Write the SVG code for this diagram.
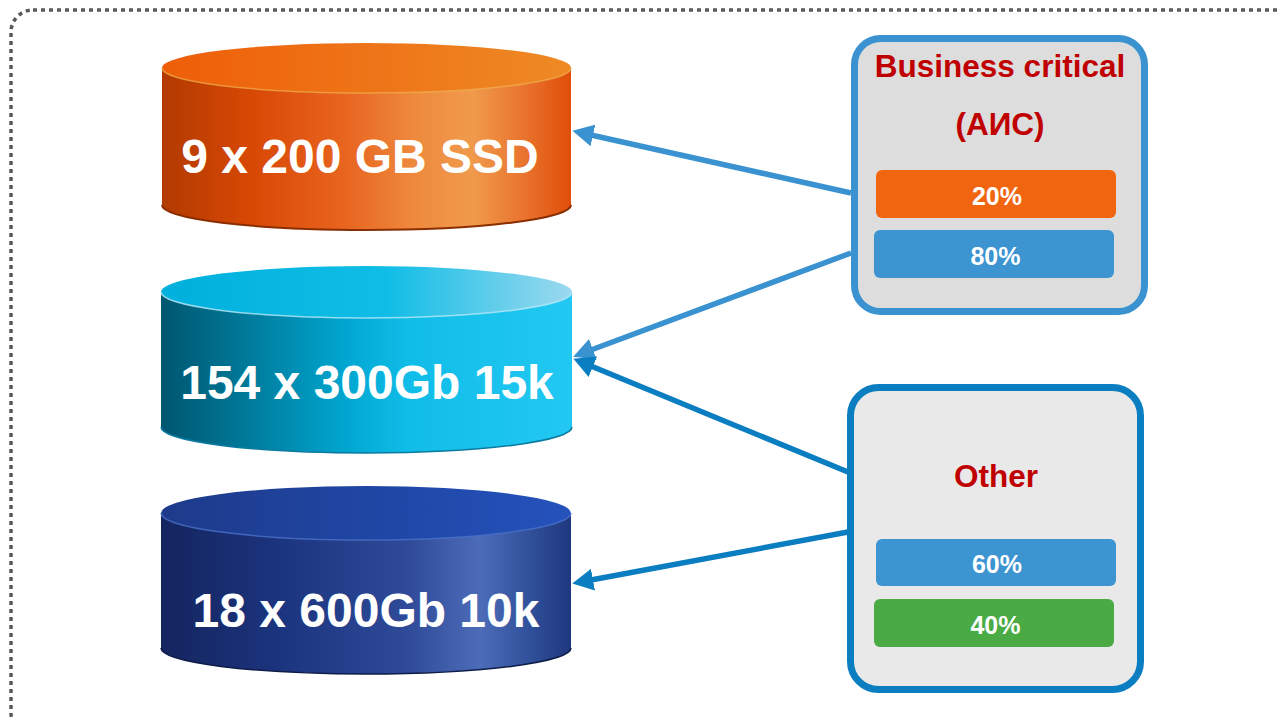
<svg xmlns="http://www.w3.org/2000/svg" width="1280" height="718" viewBox="0 0 1280 718">
<defs>
<linearGradient id="oBody" x1="0" y1="0" x2="1" y2="0">
<stop offset="0" stop-color="#b23a00"/><stop offset="0.22" stop-color="#d84805"/><stop offset="0.45" stop-color="#e86520"/><stop offset="0.62" stop-color="#ee8a3e"/><stop offset="0.76" stop-color="#f09a4c"/><stop offset="0.88" stop-color="#e97530"/><stop offset="1" stop-color="#e04e08"/>
</linearGradient>
<linearGradient id="oTop" x1="0" y1="0" x2="1" y2="0">
<stop offset="0" stop-color="#ee5e08"/><stop offset="0.5" stop-color="#ee7418"/><stop offset="1" stop-color="#ee8a25"/>
</linearGradient>
<linearGradient id="cBody" x1="0" y1="0" x2="1" y2="0">
<stop offset="0" stop-color="#00566f"/><stop offset="0.2" stop-color="#007898"/><stop offset="0.45" stop-color="#00a6d0"/><stop offset="0.6" stop-color="#10bde8"/><stop offset="1" stop-color="#22c8f2"/>
</linearGradient>
<linearGradient id="cTop" x1="0" y1="0" x2="1" y2="0">
<stop offset="0" stop-color="#00b0dc"/><stop offset="0.55" stop-color="#10bde6"/><stop offset="1" stop-color="#9cd9ee"/>
</linearGradient>
<linearGradient id="bBody" x1="0" y1="0" x2="1" y2="0">
<stop offset="0" stop-color="#14255e"/><stop offset="0.3" stop-color="#1c3580"/><stop offset="0.6" stop-color="#2e4a98"/><stop offset="0.78" stop-color="#4d6cb8"/><stop offset="0.9" stop-color="#30509a"/><stop offset="1" stop-color="#1f3880"/>
</linearGradient>
<linearGradient id="bTop" x1="0" y1="0" x2="1" y2="0">
<stop offset="0" stop-color="#1e3a8a"/><stop offset="0.6" stop-color="#2048a8"/><stop offset="1" stop-color="#2552bc"/>
</linearGradient>
<marker id="ahL" viewBox="0 0 22 22" refX="2" refY="11" markerWidth="22" markerHeight="22" markerUnits="userSpaceOnUse" orient="auto">
<path d="M0,0 L21,11 L0,22 Z" fill="#3a93d0"/>
</marker>
<marker id="ahD" viewBox="0 0 22 22" refX="2" refY="11" markerWidth="22" markerHeight="22" markerUnits="userSpaceOnUse" orient="auto">
<path d="M0,0 L21,11 L0,22 Z" fill="#0b7dc1"/>
</marker>
<style>
.disk{font-family:"Liberation Sans",Arial,sans-serif;font-weight:bold;font-size:48px;fill:#fff;text-anchor:middle}
.hdr{font-family:"Liberation Sans",Arial,sans-serif;font-weight:bold;font-size:31.5px;fill:#c00000;text-anchor:middle}
.pct{font-family:"Liberation Sans",Arial,sans-serif;font-weight:bold;font-size:25px;fill:#fff;text-anchor:middle}
.conL{fill:none;stroke:#3a93d0;stroke-width:5.5;marker-end:url(#ahL)}
.conD{fill:none;stroke:#0b7dc1;stroke-width:5.5;marker-end:url(#ahD)}
</style>
</defs>
<rect x="11" y="10" width="1290" height="725" rx="22" fill="none" stroke="#595959" stroke-width="3.5" stroke-dasharray="4 4"/>

<g id="disk-ssd">
<path d="M162,68 L162,205 A204.5,25 0 0 0 571,205 L571,68 Z" fill="url(#oBody)"/>
<path d="M162,205 A204.5,25 0 0 0 571,205" fill="none" stroke="#8a2e00" stroke-width="2"/>
<ellipse cx="366.5" cy="68" rx="204.5" ry="25" fill="url(#oTop)"/>
<path d="M162,68 A204.5,25 0 0 0 571,68" fill="none" stroke="#f0b050" stroke-width="1.5" opacity="0.7"/>
<text class="disk" x="360" y="173">9 x 200 GB SSD</text>
</g>

<g id="disk-15k">
<path d="M161,292 L161,427 A205.5,26 0 0 0 572,427 L572,292 Z" fill="url(#cBody)"/>
<path d="M161,427 A205.5,26 0 0 0 572,427" fill="none" stroke="#0a7aa0" stroke-width="1.5"/>
<ellipse cx="366.5" cy="292" rx="205.5" ry="26" fill="url(#cTop)"/>
<path d="M161,292 A205.5,26 0 0 0 572,292" fill="none" stroke="#b8e8f8" stroke-width="1.5" opacity="0.8"/>
<text class="disk" x="367" y="399">154 x 300Gb 15k</text>
</g>

<g id="disk-10k">
<path d="M161,513 L161,648 A205,26 0 0 0 571,648 L571,513 Z" fill="url(#bBody)"/>
<path d="M161,648 A205,26 0 0 0 571,648" fill="none" stroke="#0f1d4a" stroke-width="1.5"/>
<ellipse cx="366" cy="513" rx="205" ry="27" fill="url(#bTop)"/>
<path d="M161,513 A205,27 0 0 0 571,513" fill="none" stroke="#4a70c8" stroke-width="1.5" opacity="0.8"/>
<text class="disk" x="366" y="627">18 x 600Gb 10k</text>
</g>

<g id="connectors">
<line class="conL" x1="851" y1="193" x2="591" y2="135"/>
<line class="conL" x1="851" y1="253" x2="591" y2="350"/>
<line class="conD" x1="848" y1="472" x2="591" y2="366"/>
<line class="conD" x1="848" y1="532" x2="591" y2="580"/>
</g>

<g id="business-critical">
<rect x="854.5" y="38.5" width="290" height="273" rx="26" fill="#dddddd" stroke="#3a93d0" stroke-width="7"/>
<text class="hdr" x="1000" y="77">Business critical</text>
<text class="hdr" x="1000" y="135">(АИС)</text>
<rect x="876" y="170" width="240" height="48" rx="6" fill="#f26510"/>
<text class="pct" x="997" y="205">20%</text>
<rect x="874" y="230" width="240" height="48" rx="6" fill="#3c94d0"/>
<text class="pct" x="995.5" y="265">80%</text>
</g>

<g id="other">
<rect x="850.5" y="387.5" width="290" height="302" rx="28" fill="#e9e9e9" stroke="#0b7dc1" stroke-width="7"/>
<text class="hdr" x="996" y="487">Other</text>
<rect x="876" y="539" width="240" height="47" rx="6" fill="#3c94d0"/>
<text class="pct" x="997" y="573">60%</text>
<rect x="874" y="599" width="240" height="48" rx="6" fill="#4aaa44"/>
<text class="pct" x="995.5" y="634">40%</text>
</g>
</svg>
